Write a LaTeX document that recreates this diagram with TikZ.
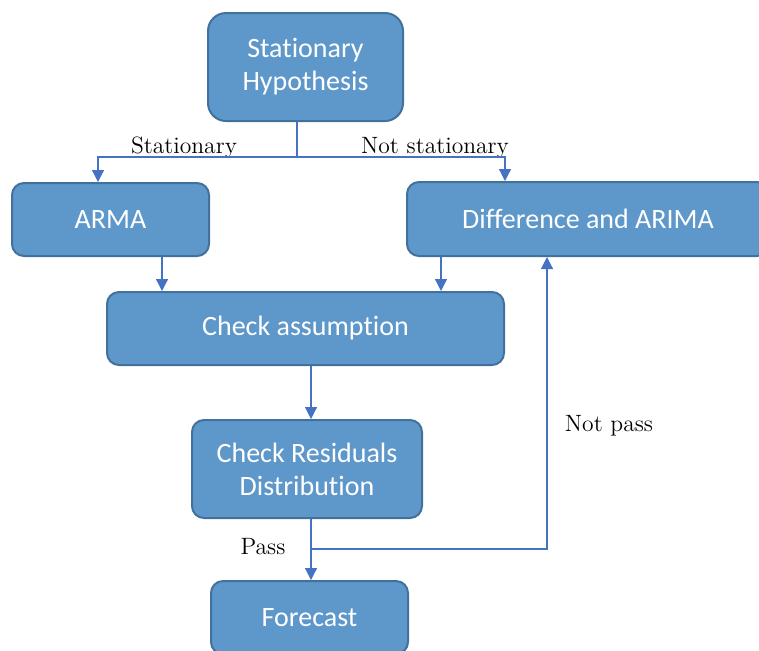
\documentclass[tikz,border=0pt]{standalone}
\usepackage{fontspec}
\newfontfamily\boxfont[Ligatures={NoCommon,NoContextual}]{Carlito}
\usetikzlibrary{arrows.meta}
\definecolor{boxfill}{HTML}{5E97CA}
\definecolor{boxedge}{HTML}{41719C}
\definecolor{linkblue}{HTML}{4472C4}

\begin{document}
\begin{tikzpicture}[x=0.5pt,y=-0.5pt,
    box/.style={draw=boxedge,fill=boxfill,line width=1pt,rounded corners=6pt,
        text=white,font=\boxfont\fontsize{14}{16.5}\selectfont,align=center,inner sep=0pt},
    link/.style={draw=linkblue,line width=0.6pt},
    arrow/.style={link,-{Triangle[length=6pt,width=6pt]}},
    lbl/.style={font=\fontsize{11.8}{14}\selectfont,anchor=base,inner sep=0pt}]
    \useasboundingbox (0,0) rectangle (759,650);

    \node[box,rounded corners=9pt,minimum width=97.5pt,minimum height=54pt] (hyp) at (305.5,67) {Stationary\\Hypothesis};
    \node[box,minimum width=98.5pt,minimum height=36.5pt] (arma) at (110.5,219.5) {ARMA};
    \node[box,minimum width=181pt,minimum height=37pt] (diff) at (588,219) {Difference and ARIMA};
    \node[box,minimum width=198.5pt,minimum height=36.5pt] (check) at (305.5,328.5) {Check assumption};
    \node[box,minimum width=115pt,minimum height=49pt] (resid) at (307,469) {Check Residuals\\Distribution};
    \node[box,minimum width=98.5pt,minimum height=36.5pt] (fore) at (309.5,617.5) {Forecast};

    \node[lbl] (stat) at (184,153) {Stationary};
    \node[lbl] (nstat) at (435,153) {Not stationary};
    \node[lbl] (pass) at (263,554) {Pass};
    \node[lbl] (npass) at (609,431) {Not pass};

    % split after the hypothesis
    \coordinate (fork) at (297,157);
    \draw[link] ([xshift=-4.25pt]hyp.south) -- (fork);
    \draw[arrow] (fork) -| ([xshift=-6.25pt]arma.north);
    \draw[arrow] (fork) -| ([xshift=-41.5pt]diff.north);

    \coordinate (a1) at ([xshift=25.75pt]arma.south);
    \coordinate (d1) at ([xshift=-73.5pt]diff.south);
    \coordinate (c1) at ([xshift=2.75pt]check.south);
    \coordinate (r1) at ([xshift=2pt]resid.south);
    \draw[arrow] (a1) -- (a1 |- check.north);
    \draw[arrow] (d1) -- (d1 |- check.north);
    \draw[arrow] (c1) -- (c1 |- resid.north);
    \draw[arrow] (r1) -- (r1 |- fore.north);

    % back to differencing when the test fails
    \coordinate (back) at (311,549);
    \draw[arrow] (back) -| ([xshift=-20.5pt]diff.south);
\end{tikzpicture}
\end{document}
